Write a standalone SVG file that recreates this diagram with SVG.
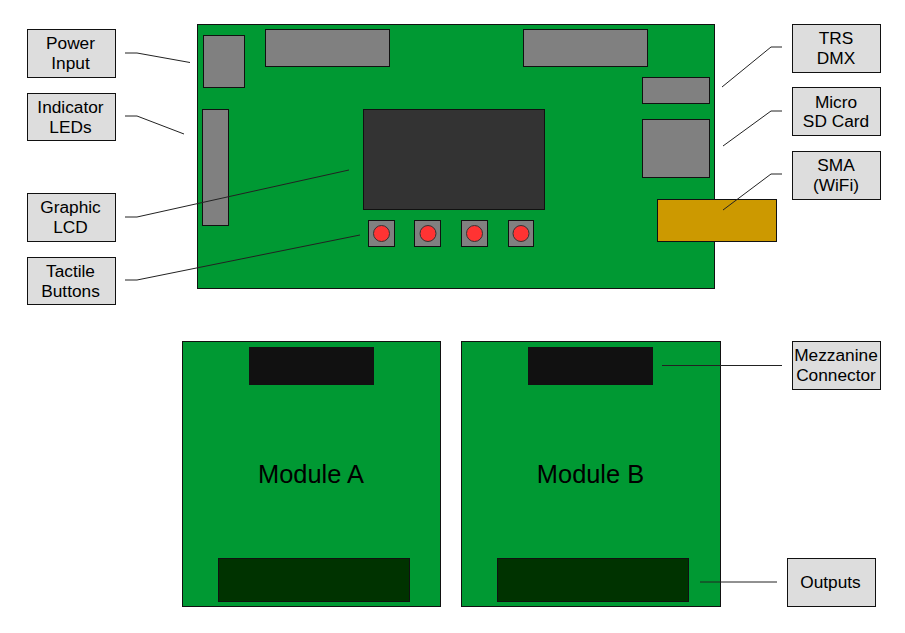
<svg xmlns="http://www.w3.org/2000/svg" width="905" height="633" viewBox="0 0 905 633">
<style>
text{font-family:"Liberation Sans",Arial,sans-serif;fill:#000;text-anchor:middle}
.l{font-size:17.300px}
.m{font-size:25.400px}
rect,circle{stroke:#111;stroke-width:1}
.pcb{fill:#009933}
.g{fill:#808080}
.lb{fill:#dddddd}
.dk{fill:#111111}
.out{fill:#003300}
.btn{fill:#ff3333;stroke:#333;stroke-width:1}
.c{fill:none;stroke:#222;stroke-width:1}
</style>
<g id="mainboard">
<rect class="pcb" x="197.500" y="24.500" width="517" height="264"/>
<rect class="g" x="203.500" y="35.500" width="41" height="52"/>
<rect class="g" x="202.500" y="109.500" width="26" height="116"/>
<rect class="g" x="265.500" y="29.500" width="124" height="37"/>
<rect class="g" x="523.500" y="29.500" width="124" height="37"/>
<rect class="g" x="642.500" y="77.500" width="67" height="26"/>
<rect class="g" x="642.500" y="119.500" width="67" height="58"/>
<rect x="363.500" y="109.500" width="181" height="100" fill="#333333"/>
<rect x="657.500" y="199.500" width="119" height="42" fill="#cc9900"/>
</g>
<g id="buttons">
<g id="btn1"><rect class="g" x="368.500" y="220.500" width="26" height="26"/><circle class="btn" cx="381.500" cy="233.500" r="8"/></g>
<g id="btn2"><rect class="g" x="414.500" y="220.500" width="26" height="26"/><circle class="btn" cx="428" cy="233.500" r="8"/></g>
<g id="btn3"><rect class="g" x="461.500" y="220.500" width="26" height="26"/><circle class="btn" cx="474.500" cy="233.500" r="8"/></g>
<g id="btn4"><rect class="g" x="508.500" y="220.500" width="25" height="26"/><circle class="btn" cx="521" cy="233.500" r="8"/></g>
</g>
<g id="module-a">
<rect class="pcb" x="182.500" y="341.500" width="258" height="265"/>
<rect class="dk" x="249.500" y="347.500" width="124" height="37"/>
<rect class="out" x="218.500" y="558.500" width="191" height="43"/>
<text class="m" x="311" y="483">Module A</text>
</g>
<g id="module-b">
<rect class="pcb" x="461.500" y="341.500" width="259" height="265"/>
<rect class="dk" x="528.500" y="347.500" width="124" height="37"/>
<rect class="out" x="497.500" y="558.500" width="191" height="43"/>
<text class="m" x="590.500" y="483">Module B</text>
</g>
<g id="connectors">
<path class="c" d="M125 53H137L190 62.500"/>
<path class="c" d="M125 116H137L184 134"/>
<path class="c" d="M125 217H137L349 170"/>
<path class="c" d="M125 280H137L360 235"/>
<path class="c" d="M782 47H771L722 87"/>
<path class="c" d="M782 111H771L723 146"/>
<path class="c" d="M782 174H771L723 210"/>
<path class="c" d="M662 365.500H782"/>
<path class="c" d="M700 582H777"/>
</g>
<g id="label-power"><rect class="lb" x="27.500" y="29.500" width="88" height="48"/><text class="l" x="70.500" y="49">Power</text><text class="l" x="70.500" y="69">Input</text></g>
<g id="label-leds"><rect class="lb" x="27.500" y="93.500" width="88" height="47"/><text class="l" x="70.500" y="113">Indicator</text><text class="l" x="70.500" y="133">LEDs</text></g>
<g id="label-lcd"><rect class="lb" x="27.500" y="193.500" width="88" height="48"/><text class="l" x="70.500" y="213">Graphic</text><text class="l" x="70.500" y="233">LCD</text></g>
<g id="label-tactile"><rect class="lb" x="27.500" y="257.500" width="88" height="47"/><text class="l" x="70.500" y="277">Tactile</text><text class="l" x="70.500" y="297">Buttons</text></g>
<g id="label-trs"><rect class="lb" x="792.500" y="24.500" width="88" height="48"/><text class="l" x="836" y="44">TRS</text><text class="l" x="836" y="64">DMX</text></g>
<g id="label-sd"><rect class="lb" x="792.500" y="87.500" width="88" height="48"/><text class="l" x="836" y="108">Micro</text><text class="l" x="836" y="127">SD Card</text></g>
<g id="label-sma"><rect class="lb" x="792.500" y="151.500" width="88" height="48"/><text class="l" x="836" y="171">SMA</text><text class="l" x="836" y="191">(WiFi)</text></g>
<g id="label-mezz"><rect class="lb" x="792.500" y="341.500" width="88" height="48"/><text class="l" x="836" y="361">Mezzanine</text><text class="l" x="836" y="381">Connector</text></g>
<g id="label-outputs"><rect class="lb" x="787.500" y="558.500" width="88" height="48"/><text class="l" x="830.500" y="588">Outputs</text></g>
</svg>
